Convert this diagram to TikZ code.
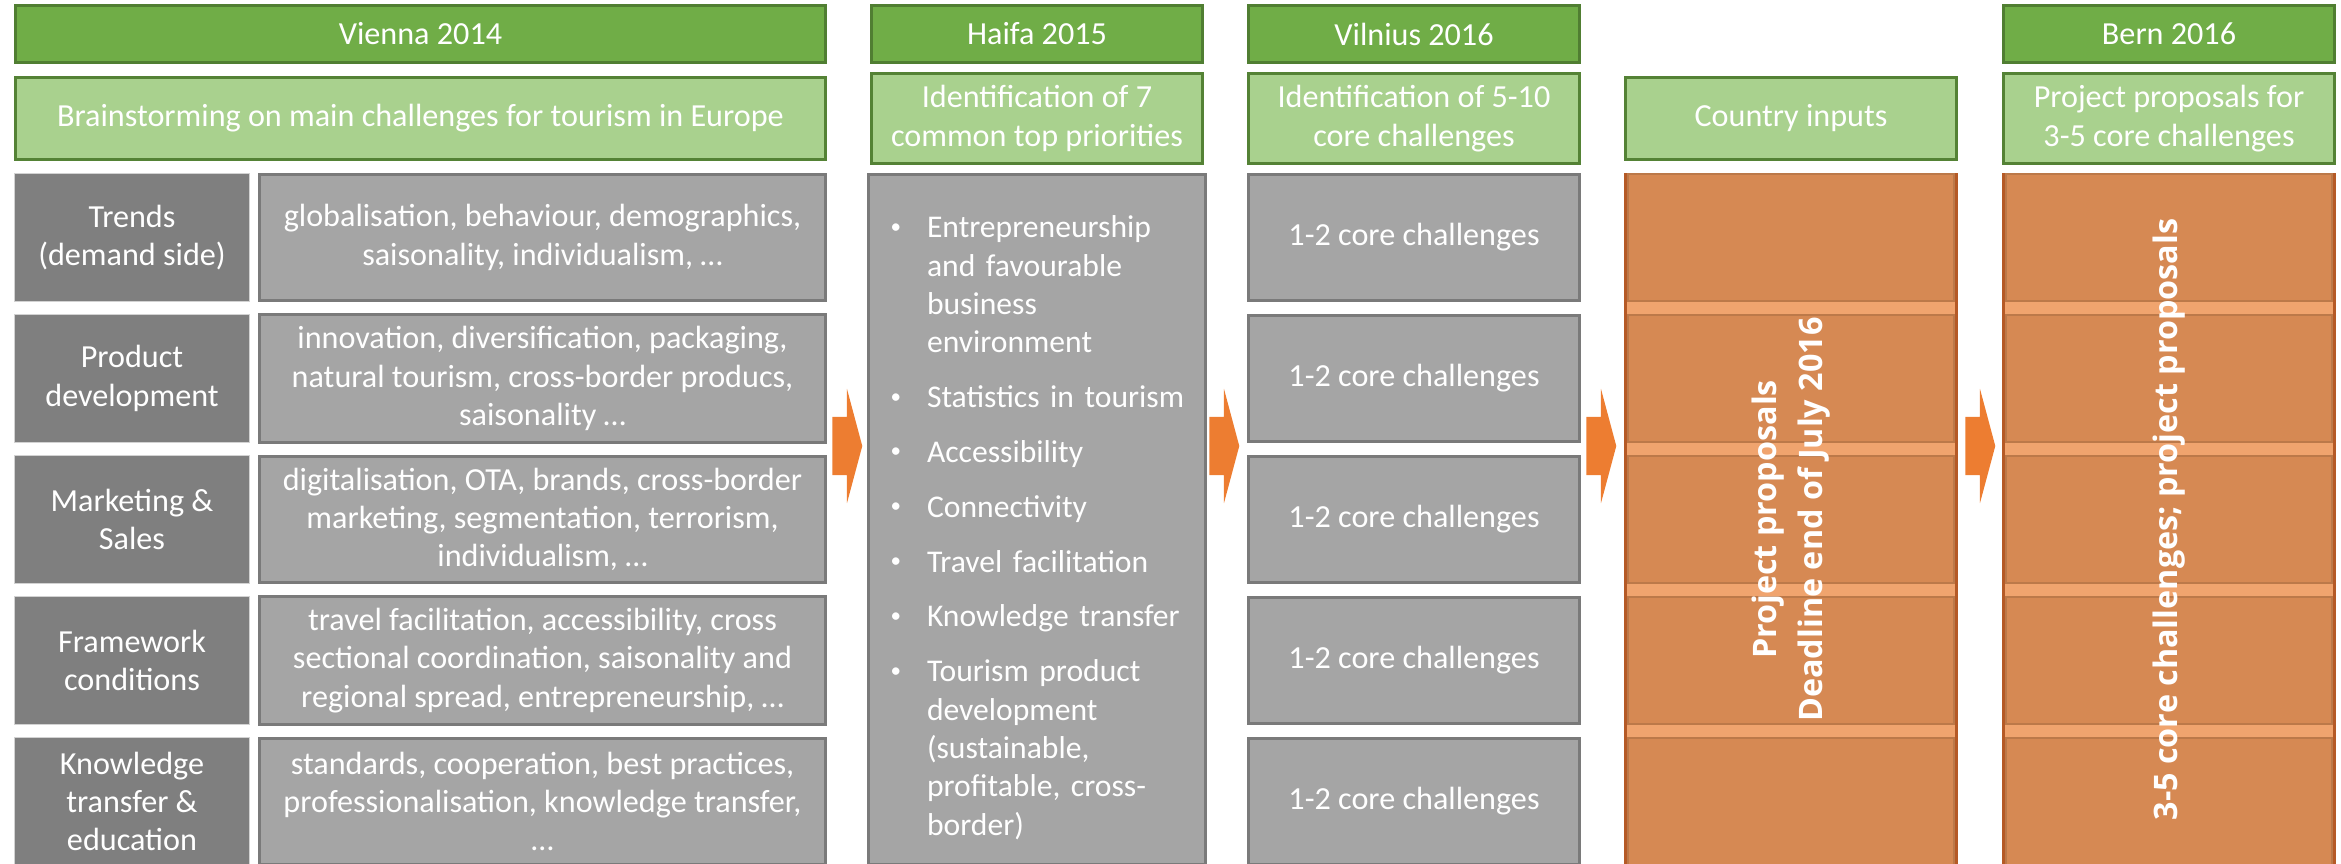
\documentclass[tikz,border=0pt]{standalone}
\usepackage{fontspec}
\setmainfont{Carlito}
\newfontfamily\rotfont{Open Sans}
\usepackage{enumitem}
\usetikzlibrary{shapes.arrows}
\definecolor{hdrgreen}{HTML}{70AD47}
\definecolor{hdrline}{HTML}{507E32}
\definecolor{subgreen}{HTML}{A9D18E}
\definecolor{subline}{HTML}{548235}
\definecolor{topicgray}{HTML}{7F7F7F}
\definecolor{infogray}{HTML}{A5A5A5}
\definecolor{infoline}{HTML}{7A7A7A}
\definecolor{phaseorange}{HTML}{D68953}
\definecolor{phaselight}{HTML}{F0A46E}
\definecolor{phaseline}{HTML}{B55A26}
\definecolor{arroworange}{HTML}{ED7D31}
\tikzstyle{header} = [rectangle, minimum width=3.31cm, minimum height=0.57cm, text centered, draw=hdrline, line width=0.8pt, fill=hdrgreen, text=white]
\tikzstyle{task}   = [rectangle, minimum width=3.31cm, minimum height=0.82cm, align=center, draw=subline, line width=0.8pt, fill=subgreen, text=white]
\tikzstyle{topic}  = [rectangle, minimum width=2.345cm, minimum height=1.275cm, align=center, draw=gray!35, line width=0.4pt, fill=topicgray, text=white]
\tikzstyle{info}   = [rectangle, minimum width=5.66cm, minimum height=1.26cm, align=center, draw=infoline, line width=0.8pt, fill=infogray, text=white]
\tikzstyle{core}   = [info, minimum width=3.31cm]
\tikzstyle{phase}  = [rectangle, minimum width=3.31cm, minimum height=6.9cm, draw=phaseline, line width=1pt, fill=phaselight]
\tikzstyle{block}  = [rectangle, minimum width=3.26cm, minimum height=1.27cm, draw=phaseorange!88!black, line width=0.5pt, fill=phaseorange]
\tikzstyle{vtext}  = [rotate=90, align=center, text=white, font=\rotfont\bfseries\fontsize{9.2}{13}\selectfont]
\tikzstyle{arrow}  = [single arrow, fill=arroworange, inner xsep=0pt, inner ysep=0.285cm, single arrow head extend=0.28cm, single arrow tip angle=150, minimum height=0.3cm, anchor=tip]

\begin{document}
\begin{tikzpicture}[node distance=1.41cm, font=\fontsize{9.15}{10.9}\selectfont]
    \useasboundingbox (0,0) rectangle (23.41,-8.63);

    % Vienna 2014
    \node (vienna)    [header, minimum width=8.10cm] at (4.205,-0.34)  {Vienna 2014};
    \node (brainst)   [task, minimum width=8.10cm]   at (4.205,-1.185) {Brainstorming on main challenges for tourism in Europe};
    \node (trends)    [topic] at (1.32,-2.375)      {Trends\\(demand side)};
    \node (product)   [topic, below of=trends]      {Product\\development};
    \node (marketing) [topic, below of=product]     {Marketing \&\\Sales};
    \node (framework) [topic, below of=marketing]   {Framework\\conditions};
    \node (knowledge) [topic, below of=framework]   {Knowledge\\transfer \&\\education};
    \node (trendsinfo)    [info] at (5.425,-2.375)       {globalisation, behaviour, demographics,\\saisonality, individualism, …};
    \node (productinfo)   [info, below of=trendsinfo]    {innovation, diversification, packaging,\\natural tourism, cross-border producs,\\saisonality …};
    \node (marketinginfo) [info, below of=productinfo]   {digitalisation, OTA, brands, cross-border\\marketing, segmentation, terrorism,\\individualism, …};
    \node (frameworkinfo) [info, below of=marketinginfo] {travel facilitation, accessibility, cross\\sectional coordination, saisonality and\\regional spread, entrepreneurship, …};
    \node (knowledgeinfo) [info, below of=frameworkinfo] {standards, cooperation, best practices,\\professionalisation, knowledge transfer,\\…};

    % Haifa 2015
    \node (haifa)      [header] at (10.37,-0.34)  {Haifa 2015};
    \node (topseven)   [task]   at (10.37,-1.185) {Identification of 7\\common top priorities};
    \node (priorities) [info, minimum width=3.31cm, minimum height=6.9cm, text width=3.14cm, align=left, font=\fontsize{9.0}{10.9}\selectfont] at (10.37,-5.195) {%
        \begin{itemize}[label={\raisebox{0.3ex}{\fontsize{6}{6}\selectfont\textbullet}}, leftmargin=0.47cm, labelsep=0.26cm, itemsep=4.7pt, parsep=0pt, topsep=0pt, partopsep=0pt]
        \item Entrepreneurship\\and favourable\\business\\environment
        \item Statistics in tourism
        \item Accessibility
        \item Connectivity
        \item Travel facilitation
        \item Knowledge transfer
        \item Tourism product\\development\\(sustainable,\\profitable, cross-\\border)
        \end{itemize}};

    % Vilnius 2016
    \node (vilnius)  [header] at (14.14,-0.34)  {Vilnius 2016};
    \node (identify) [task]   at (14.14,-1.185) {Identification of 5-10\\core challenges};
    \node (core1) [core] at (14.14,-2.375) {1-2 core challenges};
    \node (core2) [core, below of=core1]   {1-2 core challenges};
    \node (core3) [core, below of=core2]   {1-2 core challenges};
    \node (core4) [core, below of=core3]   {1-2 core challenges};
    \node (core5) [core, below of=core4]   {1-2 core challenges};

    % Country inputs
    \node (inputs)     [task]  at (17.91,-1.185) {Country inputs};
    \node (countrycol) [phase] at (17.91,-5.195) {};
    \node (cblock1) [block] at (17.91,-2.375) {};
    \node (cblock2) [block, below of=cblock1] {};
    \node (cblock3) [block, below of=cblock2] {};
    \node (cblock4) [block, below of=cblock3] {};
    \node (cblock5) [block, below of=cblock4] {};
    \node (deadline) [vtext] at (countrycol.center) {Project proposals\\Deadline end of July 2016};

    % Bern 2016
    \node (bern)      [header] at (21.69,-0.34)  {Bern 2016};
    \node (proposals) [task]   at (21.69,-1.185) {Project proposals for\\3-5 core challenges};
    \node (berncol)   [phase]  at (21.69,-5.195) {};
    \node (bblock1) [block] at (21.69,-2.375) {};
    \node (bblock2) [block, below of=bblock1] {};
    \node (bblock3) [block, below of=bblock2] {};
    \node (bblock4) [block, below of=bblock3] {};
    \node (bblock5) [block, below of=bblock4] {};
    \node (outcome) [vtext] at (berncol.center) {3-5 core challenges; project proposals};

    % arrows between the stages
    \node (arr1) [arrow] at (8.63,-4.46)  {};
    \node (arr2) [arrow] at (12.40,-4.46) {};
    \node (arr3) [arrow] at (16.17,-4.46) {};
    \node (arr4) [arrow] at (19.96,-4.46) {};

\end{tikzpicture}
\end{document}
